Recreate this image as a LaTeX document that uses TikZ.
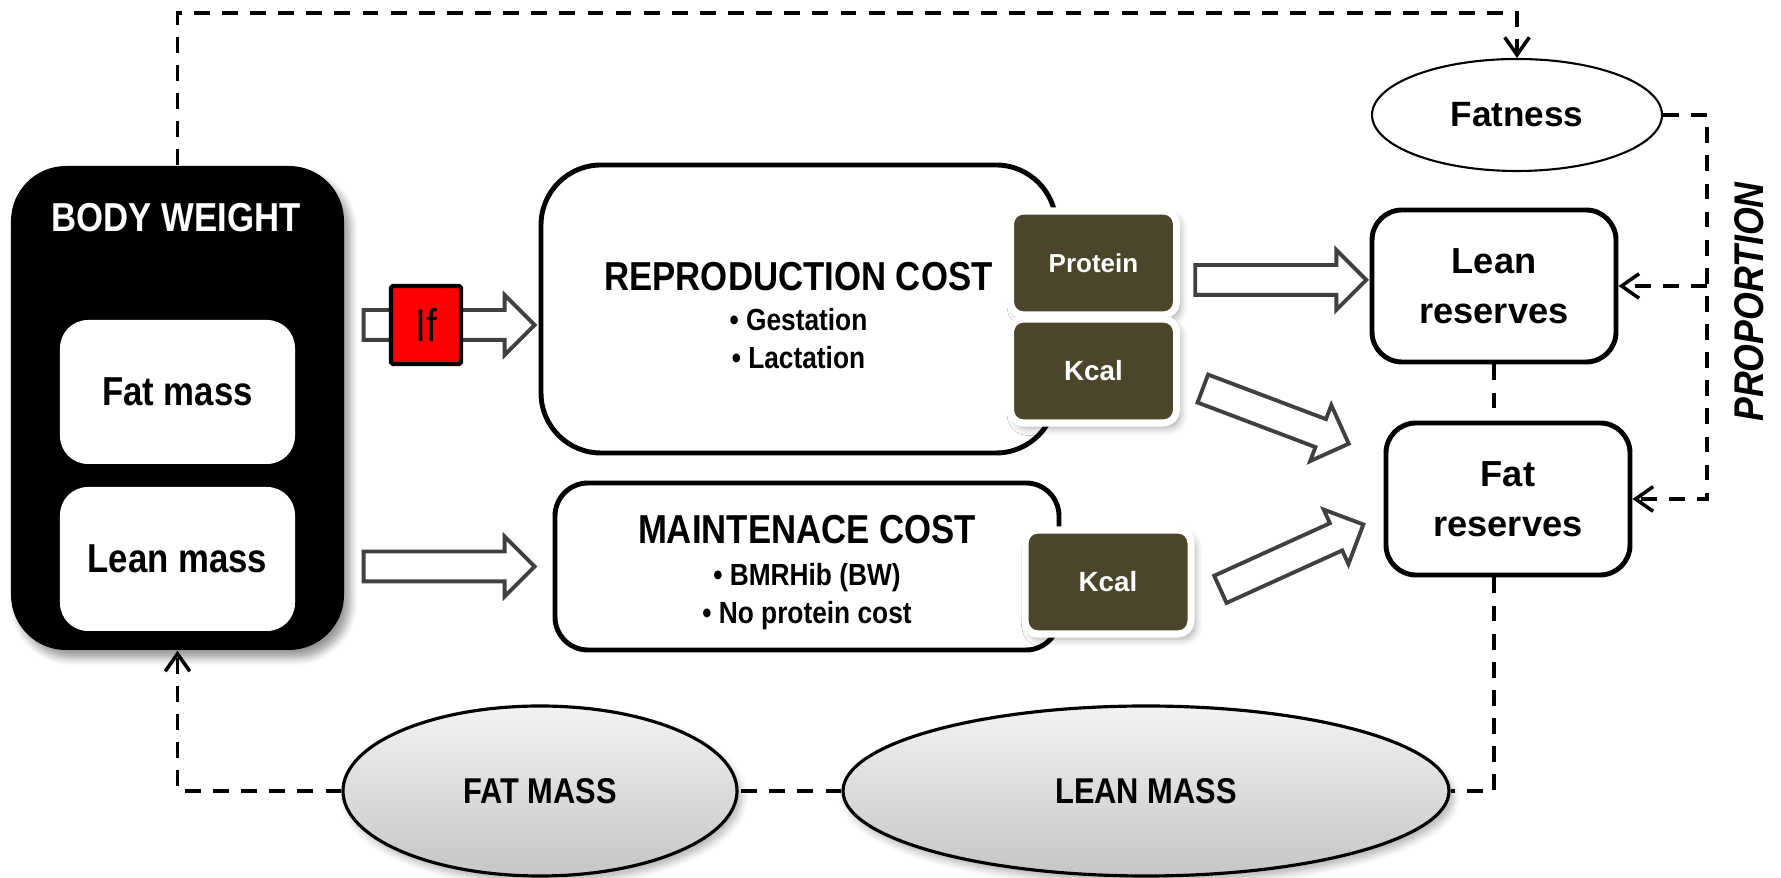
\documentclass[tikz,border=0pt]{standalone}
\usepackage{fontspec}
\setmainfont{Liberation Sans}[FakeStretch=0.86]
\newfontfamily\widefont{Liberation Sans}
\usetikzlibrary{shapes.geometric, shapes.arrows, arrows.meta, positioning, calc, shadows, shadows.blur}

\definecolor{kcalbrown}{RGB}{74,69,43}
\definecolor{arrowgray}{RGB}{64,64,64}

\newcommand{\costtitle}[1]{{\fontsize{11.5}{10.8}\selectfont\rule{0pt}{11.6pt}#1}}

\tikzset{
  bigbox/.style={draw, line width=1.4pt, fill=white, align=center,
    font=\fontsize{8.7}{10.8}\selectfont\bfseries},
  massbox/.style={fill=white, rounded corners=0.28cm, minimum width=2.35cm,
    minimum height=1.44cm, font=\fontsize{11.5}{13}\selectfont\bfseries},
  resbox/.style={draw, line width=1.4pt, fill=white, rounded corners=0.3cm,
    minimum width=2.44cm, minimum height=1.52cm, align=center,
    font=\widefont\fontsize{10.3}{14.2}\selectfont\bfseries},
  nutbox/.style={fill=kcalbrown, draw=white, line width=2pt, rounded corners=0.13cm,
    minimum width=1.66cm, minimum height=1.04cm, text=white,
    blur shadow={shadow blur steps=5, shadow xshift=0.4mm, shadow yshift=-0.5mm, shadow opacity=35}},
  fatarrow/.style={single arrow, draw=arrowgray, fill=white, line width=1.1pt,
    inner xsep=0pt, inner ysep=0.13cm, single arrow head extend=0.15cm,
    single arrow head indent=0pt, sloped, midway},
  massell/.style={ellipse, draw, line width=0.9pt, top color=gray!10, bottom color=gray!45,
    minimum height=1.7cm, font=\fontsize{10.2}{12}\selectfont\bfseries,
    blur shadow={shadow blur steps=5, shadow xshift=0.4mm, shadow yshift=-0.6mm, shadow opacity=30}},
  dep/.style={line width=1pt, dash pattern=on 4.5pt off 3.5pt},
  depto/.style={dep, -{Straight Barb[length=5pt, width=7pt]}},
}

\begin{document}
\begin{tikzpicture}
\useasboundingbox (0,0) rectangle (17.81,8.78);

% body weight block
\node[fill=black, rounded corners=0.55cm, minimum width=3.33cm, minimum height=4.84cm,
  blur shadow={shadow blur steps=6, shadow xshift=0.6mm, shadow yshift=-0.8mm, shadow opacity=40}] (bw) at (1.775,4.70) {};
\node[text=white, font=\fontsize{11.5}{13}\selectfont\bfseries] (bwtitle) at (1.76,6.60) {BODY WEIGHT};
\node[massbox] (fm) at (1.775,4.86) {Fat mass};
\node[massbox] (lm) at (1.775,3.19) {Lean mass};

% costs
\node[bigbox, rounded corners=0.6cm, minimum width=5.15cm, minimum height=2.88cm] (rep) at (7.985,5.69)
  {\costtitle{REPRODUCTION COST}\\[0.5pt] • Gestation\\ • Lactation};
\node[bigbox, rounded corners=0.33cm, minimum width=5.04cm, minimum height=1.67cm] (mnt) at (8.07,3.115)
  {\costtitle{MAINTENACE COST}\\[1pt] • BMRHib (BW)\\ • No protein cost};

\node[nutbox, font=\widefont\fontsize{7.4}{9}\selectfont\bfseries] (prot) at (10.935,6.15) {Protein};
\node[nutbox, font=\widefont\fontsize{7.9}{9}\selectfont\bfseries] (kc1) at (10.935,5.07) {Kcal};
\node[nutbox, font=\widefont\fontsize{7.9}{9}\selectfont\bfseries] (kc2) at (11.08,2.96) {Kcal};

% reserves
\node[ellipse, draw, line width=0.6pt, minimum width=2.9cm, minimum height=1.12cm,
  font=\widefont\fontsize{10}{12}\selectfont\bfseries] (fat) at (15.17,7.63) {Fatness};
\node[resbox] (lr) at (14.94,5.92) {Lean\\reserves};
\node[resbox] (fr) at (15.08,3.79) {Fat\\reserves};
\node[rotate=90, font=\fontsize{11.8}{13}\selectfont\bfseries\itshape] (prop) at (17.49,5.76) {PROPORTION};

\node[massell, minimum width=3.94cm] (fme) at (5.40,0.87) {FAT MASS};
\node[massell, minimum width=6.06cm] (lme) at (11.46,0.87) {LEAN MASS};

% flow arrows
\coordinate (iftail) at ($(bw.east)+(0.13,0.83)$);
\coordinate (iftip) at ($(rep.west |- iftail)+(-0.13,0)$);
\path (iftail) -- (iftip) node[fatarrow, minimum height=1.71cm] (a1) {};
\node[draw, fill=red, line width=1.2pt, rounded corners=0.5pt, minimum width=0.70cm, minimum height=0.78cm,
  font=\fontsize{13}{14}\selectfont] (iff) at (4.26,5.53) {If};

\coordinate (mtail) at ($(bw.east |- mnt.west)+(0.13,0)$);
\coordinate (mtip) at ($(mnt.west)+(-0.27,0)$);
\path (mtail) -- (mtip) node[fatarrow, minimum height=1.71cm] (a2) {};

\coordinate (ptail) at ($(prot.east |- lr.west)+(0.09,0.06)$);
\coordinate (ptip) at ($(lr.west)+(-0.12,0.06)$);
\path (ptail) -- (ptip) node[fatarrow, minimum height=1.71cm] (a3) {};

\coordinate (k1tail) at ($(kc1.east)+(0.16,-0.15)$);
\coordinate (k1tip) at ($(fr.west)+(-0.42,0.58)$);
\path (k1tail) -- (k1tip) node[fatarrow, minimum height=1.56cm] (a4) {};

\coordinate (k2tail) at ($(kc2.east)+(0.20,-0.10)$);
\coordinate (k2tip) at ($(fr.west)+(-0.28,-0.29)$);
\path (k2tail) -- (k2tip) node[fatarrow, minimum height=1.57cm] (a5) {};

% dashed feedback
\coordinate (topline) at (0,8.65);
\coordinate (propline) at (17.07,0);
\draw[depto] (bw.north) |- (topline -| fat.north) -- (fat.north);
\draw[depto] (fat.east) -| (propline |- fr.east) -- (fr.east);
\draw[depto] (propline |- lr.east) -- (lr.east);
\draw[dep] (lr.south) -- (lr.south |- fr.north);
\draw[dep] (lr.south |- fr.south) |- (lme.east);
\draw[dep] (lme.west) -- (fme.east);
\draw[depto] (fme.west) -| (bw.south);
\end{tikzpicture}
\end{document}
